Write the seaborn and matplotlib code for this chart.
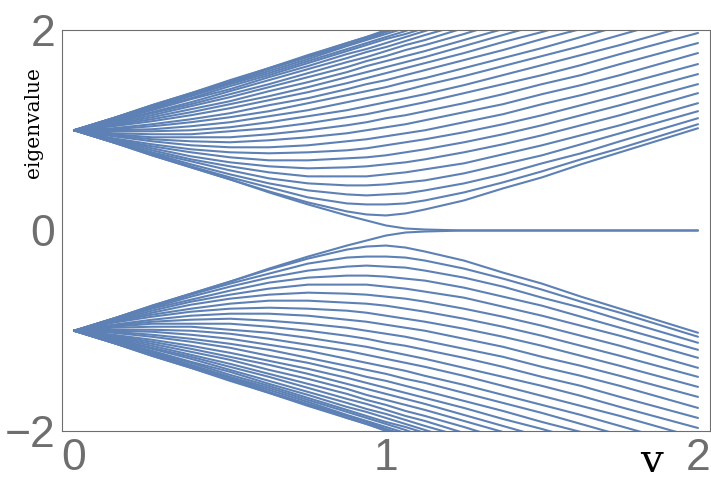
import pandas as pd
import matplotlib
matplotlib.use('Agg')
import matplotlib.pyplot as plt
import seaborn as sns

sns.set_style('white')

v_values = [0, 0.125, 0.25, 0.375, 0.5, 0.625, 0.75, 0.875, 0.9375, 1.0,
            1.0625, 1.125, 1.25, 1.375, 1.5, 1.625, 1.75, 2.0]

# positive eigenvalues, one row per level
upper_band = [
    [1, 1.12, 1.25, 1.37, 1.50, 1.62, 1.75, 1.87, 1.93, 2.00, 2.06, 2.12, 2.25, 2.37, 2.50, 2.62, 2.75, 3.00],
    [1, 1.12, 1.25, 1.37, 1.49, 1.62, 1.74, 1.87, 1.93, 1.99, 2.05, 2.11, 2.24, 2.36, 2.49, 2.61, 2.74, 2.99],
    [1, 1.12, 1.24, 1.36, 1.48, 1.61, 1.73, 1.85, 1.91, 1.98, 2.04, 2.10, 2.22, 2.35, 2.47, 2.60, 2.72, 2.97],
    [1, 1.12, 1.23, 1.35, 1.47, 1.59, 1.71, 1.84, 1.90, 1.96, 2.02, 2.08, 2.20, 2.33, 2.45, 2.57, 2.70, 2.94],
    [1, 1.11, 1.22, 1.34, 1.46, 1.57, 1.69, 1.81, 1.87, 1.93, 1.99, 2.06, 2.18, 2.30, 2.42, 2.54, 2.67, 2.91],
    [1, 1.10, 1.21, 1.32, 1.44, 1.55, 1.67, 1.79, 1.85, 1.91, 1.96, 2.02, 2.14, 2.27, 2.39, 2.51, 2.63, 2.87],
    [1, 1.10, 1.20, 1.31, 1.41, 1.53, 1.64, 1.76, 1.81, 1.87, 1.93, 1.99, 2.11, 2.23, 2.35, 2.47, 2.59, 2.83],
    [1, 1.09, 1.18, 1.28, 1.39, 1.50, 1.61, 1.72, 1.78, 1.83, 1.89, 1.95, 2.06, 2.18, 2.30, 2.42, 2.54, 2.78],
    [1, 1.08, 1.17, 1.26, 1.36, 1.46, 1.57, 1.68, 1.73, 1.79, 1.85, 1.90, 2.02, 2.13, 2.25, 2.36, 2.48, 2.72],
    [1, 1.07, 1.15, 1.24, 1.33, 1.43, 1.53, 1.63, 1.69, 1.74, 1.80, 1.85, 1.96, 2.08, 2.19, 2.31, 2.42, 2.66],
    [1, 1.06, 1.13, 1.21, 1.29, 1.39, 1.48, 1.58, 1.64, 1.69, 1.74, 1.79, 1.90, 2.01, 2.13, 2.24, 2.36, 2.59],
    [1, 1.05, 1.11, 1.18, 1.26, 1.34, 1.43, 1.53, 1.58, 1.63, 1.68, 1.73, 1.84, 1.95, 2.06, 2.17, 2.28, 2.51],
    [1, 1.04, 1.09, 1.15, 1.22, 1.30, 1.38, 1.47, 1.52, 1.57, 1.62, 1.67, 1.77, 1.88, 1.98, 2.09, 2.21, 2.43],
    [1, 1.02, 1.06, 1.11, 1.17, 1.25, 1.32, 1.41, 1.46, 1.50, 1.55, 1.60, 1.70, 1.80, 1.91, 2.01, 2.12, 2.35],
    [1, 1.01, 1.04, 1.08, 1.13, 1.19, 1.27, 1.35, 1.39, 1.43, 1.48, 1.52, 1.62, 1.72, 1.82, 1.93, 2.04, 2.26],
    [1, 1.00, 1.01, 1.04, 1.08, 1.14, 1.20, 1.28, 1.32, 1.36, 1.40, 1.45, 1.54, 1.64, 1.74, 1.84, 1.95, 2.17],
    [1, 0.99, 0.99, 1.00, 1.03, 1.08, 1.14, 1.20, 1.24, 1.28, 1.32, 1.36, 1.45, 1.55, 1.65, 1.75, 1.85, 2.07],
    [1, 0.97, 0.96, 0.96, 0.99, 1.02, 1.07, 1.13, 1.16, 1.20, 1.24, 1.28, 1.37, 1.46, 1.55, 1.65, 1.76, 1.97],
    [1, 0.96, 0.93, 0.93, 0.93, 0.96, 1.00, 1.05, 1.08, 1.12, 1.15, 1.19, 1.27, 1.36, 1.46, 1.55, 1.66, 1.87],
    [1, 0.95, 0.91, 0.89, 0.88, 0.90, 0.93, 0.97, 1.00, 1.03, 1.06, 1.10, 1.18, 1.26, 1.36, 1.45, 1.55, 1.77],
    [1, 0.94, 0.89, 0.85, 0.83, 0.83, 0.85, 0.89, 0.91, 0.94, 0.97, 1.00, 1.08, 1.16, 1.26, 1.35, 1.45, 1.66],
    [1, 0.92, 0.86, 0.81, 0.78, 0.77, 0.78, 0.80, 0.82, 0.85, 0.88, 0.91, 0.98, 1.06, 1.15, 1.25, 1.35, 1.56],
    [1, 0.91, 0.84, 0.78, 0.73, 0.70, 0.70, 0.72, 0.73, 0.75, 0.78, 0.81, 0.88, 0.96, 1.05, 1.15, 1.25, 1.46],
    [1, 0.91, 0.82, 0.74, 0.68, 0.64, 0.62, 0.63, 0.64, 0.66, 0.68, 0.71, 0.78, 0.86, 0.95, 1.05, 1.15, 1.37],
    [1, 0.90, 0.80, 0.71, 0.64, 0.58, 0.54, 0.54, 0.54, 0.56, 0.58, 0.61, 0.67, 0.76, 0.85, 0.95, 1.05, 1.27],
    [1, 0.89, 0.78, 0.69, 0.60, 0.52, 0.47, 0.45, 0.45, 0.46, 0.48, 0.50, 0.57, 0.66, 0.75, 0.86, 0.97, 1.19],
    [1, 0.88, 0.77, 0.66, 0.56, 0.47, 0.40, 0.36, 0.35, 0.36, 0.37, 0.40, 0.47, 0.56, 0.67, 0.77, 0.89, 1.12],
    [1, 0.88, 0.76, 0.64, 0.53, 0.43, 0.33, 0.27, 0.26, 0.26, 0.27, 0.30, 0.38, 0.48, 0.59, 0.71, 0.82, 1.06],
    [1, 0.88, 0.75, 0.63, 0.51, 0.39, 0.28, 0.19, 0.16, 0.15, 0.17, 0.21, 0.30, 0.42, 0.53, 0.66, 0.78, 1.02],
    [1, 0.88, 0.75, 0.63, 0.51, 0.38, 0.26, 0.15, 0.10, 0.05, 0.02, 0.01, 0.00, 0.00, 0.00, 0.00, 0.00, 0.00],
]

# negative eigenvalues
lower_band = [
    [-1, -1.12, -1.25, -1.37, -1.50, -1.62, -1.75, -1.87, -1.93, -2.00, -2.06, -2.12, -2.25, -2.37, -2.50, -2.62, -2.75, -3.00],
    [-1, -1.12, -1.25, -1.37, -1.49, -1.62, -1.74, -1.87, -1.93, -1.99, -2.05, -2.11, -2.24, -2.36, -2.49, -2.61, -2.74, -2.99],
    [-1, -1.12, -1.24, -1.36, -1.48, -1.61, -1.73, -1.85, -1.91, -1.98, -2.04, -2.10, -2.22, -2.35, -2.47, -2.60, -2.72, -2.97],
    [-1, -1.12, -1.23, -1.35, -1.47, -1.59, -1.71, -1.84, -1.90, -1.96, -2.02, -2.08, -2.20, -2.33, -2.45, -2.57, -2.70, -2.94],
    [-1, -1.11, -1.22, -1.34, -1.46, -1.57, -1.69, -1.81, -1.87, -1.93, -1.99, -2.06, -2.18, -2.30, -2.42, -2.54, -2.67, -2.91],
    [-1, -1.10, -1.21, -1.32, -1.44, -1.55, -1.67, -1.79, -1.85, -1.91, -1.96, -2.02, -2.14, -2.27, -2.39, -2.51, -2.63, -2.87],
    [-1, -1.10, -1.20, -1.31, -1.41, -1.53, -1.64, -1.76, -1.81, -1.87, -1.93, -1.99, -2.11, -2.23, -2.35, -2.47, -2.59, -2.83],
    [-1, -1.09, -1.18, -1.28, -1.39, -1.50, -1.61, -1.72, -1.78, -1.83, -1.89, -1.95, -2.06, -2.18, -2.30, -2.42, -2.54, -2.78],
    [-1, -1.08, -1.17, -1.26, -1.36, -1.46, -1.57, -1.68, -1.73, -1.79, -1.85, -1.90, -2.02, -2.13, -2.25, -2.36, -2.48, -2.72],
    [-1, -1.07, -1.15, -1.24, -1.33, -1.43, -1.53, -1.63, -1.69, -1.74, -1.80, -1.85, -1.96, -2.08, -2.19, -2.31, -2.42, -2.66],
    [-1, -1.06, -1.13, -1.21, -1.29, -1.39, -1.48, -1.58, -1.64, -1.69, -1.74, -1.79, -1.90, -2.01, -2.13, -2.24, -2.36, -2.59],
    [-1, -1.05, -1.11, -1.18, -1.26, -1.34, -1.43, -1.53, -1.58, -1.63, -1.68, -1.73, -1.84, -1.95, -2.06, -2.17, -2.28, -2.51],
    [-1, -1.04, -1.09, -1.15, -1.22, -1.30, -1.38, -1.47, -1.52, -1.57, -1.62, -1.67, -1.77, -1.88, -1.98, -2.09, -2.21, -2.43],
    [-1, -1.02, -1.06, -1.11, -1.17, -1.25, -1.32, -1.41, -1.46, -1.50, -1.55, -1.60, -1.70, -1.80, -1.91, -2.01, -2.12, -2.35],
    [-1, -1.01, -1.04, -1.08, -1.13, -1.19, -1.27, -1.35, -1.39, -1.43, -1.48, -1.52, -1.62, -1.72, -1.82, -1.93, -2.04, -2.26],
    [-1, -1.00, -1.01, -1.04, -1.08, -1.14, -1.20, -1.28, -1.32, -1.36, -1.40, -1.45, -1.54, -1.64, -1.74, -1.84, -1.95, -2.17],
    [-1, -0.99, -0.99, -1.00, -1.03, -1.08, -1.14, -1.20, -1.24, -1.28, -1.32, -1.36, -1.45, -1.55, -1.65, -1.75, -1.85, -2.07],
    [-1, -0.97, -0.96, -0.96, -0.99, -1.02, -1.07, -1.13, -1.16, -1.20, -1.24, -1.28, -1.37, -1.46, -1.55, -1.65, -1.76, -1.97],
    [-1, -0.96, -0.93, -0.93, -0.93, -0.96, -1.00, -1.05, -1.08, -1.12, -1.15, -1.19, -1.27, -1.36, -1.46, -1.55, -1.66, -1.87],
    [-1, -0.95, -0.91, -0.89, -0.88, -0.90, -0.93, -0.97, -1.00, -1.03, -1.06, -1.10, -1.18, -1.26, -1.36, -1.45, -1.55, -1.77],
    [-1, -0.94, -0.89, -0.85, -0.83, -0.83, -0.85, -0.89, -0.91, -0.94, -0.97, -1.00, -1.08, -1.16, -1.26, -1.35, -1.45, -1.66],
    [-1, -0.92, -0.86, -0.81, -0.78, -0.77, -0.78, -0.80, -0.82, -0.85, -0.88, -0.91, -0.98, -1.06, -1.15, -1.25, -1.35, -1.56],
    [-1, -0.91, -0.84, -0.78, -0.73, -0.70, -0.70, -0.72, -0.73, -0.75, -0.78, -0.81, -0.88, -0.96, -1.05, -1.15, -1.25, -1.46],
    [-1, -0.91, -0.82, -0.74, -0.68, -0.64, -0.62, -0.63, -0.64, -0.66, -0.68, -0.71, -0.78, -0.86, -0.95, -1.05, -1.15, -1.37],
    [-1, -0.90, -0.80, -0.71, -0.64, -0.58, -0.54, -0.54, -0.54, -0.56, -0.58, -0.61, -0.67, -0.76, -0.85, -0.95, -1.05, -1.27],
    [-1, -0.89, -0.78, -0.69, -0.60, -0.52, -0.47, -0.45, -0.45, -0.46, -0.48, -0.50, -0.57, -0.66, -0.75, -0.86, -0.97, -1.19],
    [-1, -0.88, -0.77, -0.66, -0.56, -0.47, -0.40, -0.36, -0.35, -0.36, -0.37, -0.40, -0.47, -0.56, -0.67, -0.77, -0.89, -1.12],
    [-1, -0.88, -0.76, -0.64, -0.53, -0.43, -0.33, -0.27, -0.26, -0.26, -0.27, -0.30, -0.38, -0.48, -0.59, -0.71, -0.82, -1.06],
    [-1, -0.88, -0.75, -0.63, -0.51, -0.39, -0.28, -0.19, -0.16, -0.15, -0.17, -0.21, -0.30, -0.42, -0.53, -0.66, -0.78, -1.02],
    [-1, -0.88, -0.75, -0.63, -0.51, -0.38, -0.26, -0.15, -0.10, -0.05, -0.02, -0.01, -0.00, -0.00, -0.00, -0.00, -0.00, -0.00],
]

x_ticks = [0, 1, 2]
x_ticklabels = ['0', '1', '2']
y_ticks = [-2, 0, 2]
y_ticklabels = ['\u22122', '0', '2']

line_color = '#5e81b5'
frame_color = '#6e6e6e'

# long form table for seaborn
rows = []
for n, levels in enumerate(upper_band + lower_band):
    for v, e in zip(v_values, levels):
        rows.append({'v': v, 'E': e, 'level': n})
df = pd.DataFrame(rows)

fig = plt.figure(figsize=(7.11, 4.96), dpi=100)
ax = fig.add_axes([62 / 711, 1 - 431 / 496, 648 / 711, 401 / 496])

sns.lineplot(data=df, x='v', y='E', units='level', estimator=None,
             color=line_color, linewidth=1.5, legend=False, ax=ax)

ax.set_xlim(-0.0385, 2.0385)
ax.set_ylim(-2, 2)
ax.set_xlabel('')
ax.set_ylabel('')

ax.set_xticks(x_ticks)
ax.set_xticklabels(x_ticklabels)
ax.set_yticks(y_ticks)
ax.set_yticklabels(y_ticklabels)
ax.tick_params(direction='in', length=4, width=0.8, color=frame_color,
               labelcolor=frame_color, labelsize=32, pad=5)
for lab in ax.get_xticklabels() + ax.get_yticklabels():
    lab.set_family('Liberation Sans')

for sp in ax.spines.values():
    sp.set_visible(True)
    sp.set_color(frame_color)
    sp.set_linewidth(0.8)

fig.text(34 / 711, 1 - 123 / 496, 'eigenvalue', rotation=90, ha='center',
         va='center', fontsize=14.5, family='DejaVu Serif', color='black')
fig.text(651 / 711, 1 - 462 / 496, 'v', ha='center', va='center',
         fontsize=29, family='DejaVu Serif', color='black')

fig.savefig('out.png', dpi=100)
